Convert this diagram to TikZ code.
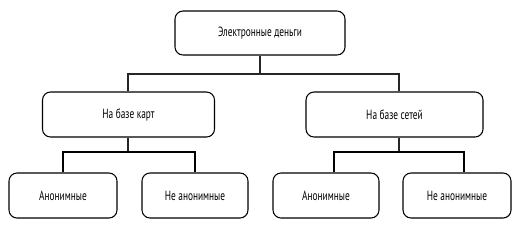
\documentclass[tikz,border=0pt]{standalone}
\usepackage{fontspec}
\setmainfont[FakeStretch=0.7]{PT Sans}
\begin{document}
\begin{tikzpicture}[x=0.75pt,y=-0.75pt,
  box/.style={draw=black,line width=0.8pt,rounded corners=6pt,fill=white,inner sep=0pt,
    font=\fontsize{10pt}{12pt}\selectfont},
  thinline/.style={draw=black!85,line width=0.8pt},
  thickline/.style={draw=black,line width=1.7pt}]
\useasboundingbox (0,0) rectangle (517,226);
\node[box,minimum width=170*0.75pt,minimum height=44*0.75pt] (top) at (260,33) {Электронные деньги};
\node[box,minimum width=172*0.75pt,minimum height=45*0.75pt] (ml) at (128.5,114.5) {На базе карт};
\node[box,minimum width=177*0.75pt,minimum height=45*0.75pt] (mr) at (394.5,114.5) {На базе сетей};
\node[box,minimum width=108*0.75pt,minimum height=45*0.75pt] (c1) at (63,195.5) {Анонимные};
\node[box,minimum width=106*0.75pt,minimum height=45*0.75pt] (c2) at (195,195.5) {Не анонимные};
\node[box,minimum width=106*0.75pt,minimum height=45*0.75pt] (c3) at (326,195.5) {Анонимные};
\node[box,minimum width=108*0.75pt,minimum height=45*0.75pt] (c4) at (457,195.5) {Не анонимные};
\coordinate (tj) at (260,74);
\coordinate (lj) at (128,152);
\coordinate (rj) at (399,152);
\draw[thinline] (top.south) -- (tj);
\draw[thinline] (tj) -| (ml.north -| lj);
\draw[thinline] (tj) -| (mr.north -| rj);
\draw[thinline] (ml.south -| lj) -- (lj);
\draw[thinline] (mr.south -| rj) -- (rj);
\draw[thickline] (c1.north) |- (lj) -| (c2.north);
\draw[thickline] ([xshift=8*0.75pt]c3.north) |- (rj) -| ([xshift=7*0.75pt]c4.north);
\end{tikzpicture}
\end{document}
